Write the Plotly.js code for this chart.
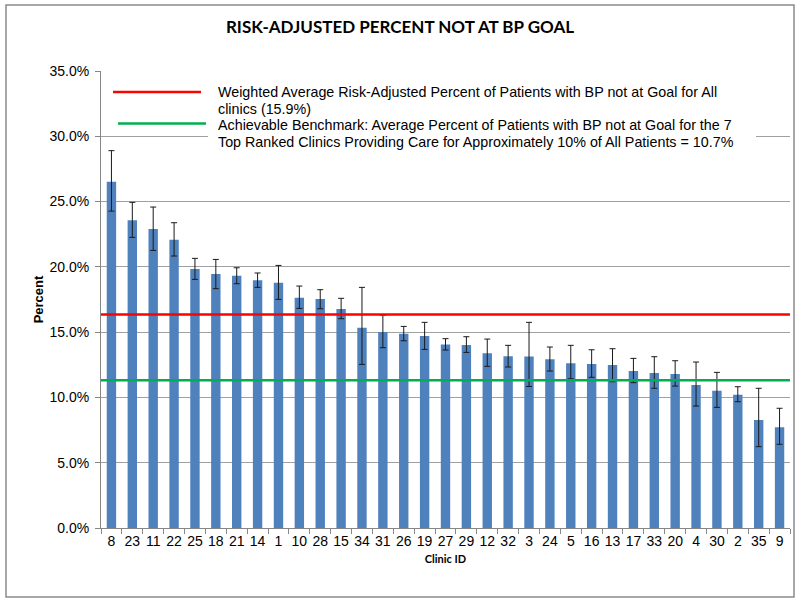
<!DOCTYPE html>
<html>
<head>
<meta charset="utf-8">
<script src="https://cdn.plot.ly/plotly-3.0.1.min.js"></script>
<style>
  html, body { margin: 0; padding: 0; background: #ffffff; }
  #chart { width: 800px; height: 603px; }
</style>
</head>
<body>
<div id="chart"></div>
<script>
// ---- data ----
var clinicIds = ['8','23','11','22','25','18','21','14','1','10','28','15','34','31','26','19','27','29','12','32','3','24','5','16','13','17','33','20','4','30','2','35','9'];
var percentNotAtGoal = [26.52,23.56,22.89,22.08,19.83,19.45,19.32,18.97,18.79,17.64,17.53,16.77,15.34,15.01,14.88,14.70,14.06,14.01,13.38,13.15,13.13,12.92,12.61,12.56,12.48,12.02,11.87,11.79,10.95,10.51,10.21,8.27,7.71];
var upperLimit = [28.90,24.94,24.58,23.38,20.65,20.57,19.93,19.53,20.11,18.53,18.25,17.59,18.43,16.30,15.44,15.75,14.50,14.65,14.47,13.99,15.75,13.86,13.99,13.65,13.73,12.99,13.12,12.81,12.71,11.92,10.82,10.70,9.17];
var lowerLimit = [24.27,22.26,21.26,20.83,19.04,18.33,18.71,18.43,17.51,16.82,16.79,16.03,12.53,13.81,14.34,13.68,13.63,13.45,12.38,12.33,10.84,12.02,11.43,11.54,11.20,11.13,10.70,10.87,9.34,9.24,9.67,6.23,6.41];
var weightedAverageLine = 16.36;
var benchmarkLine = 11.31;
var yTickValues = [0,5,10,15,20,25,30,35];
var yTickLabels = ['0.0%','5.0%','10.0%','15.0%','20.0%','25.0%','30.0%','35.0%'];
var legendLines = [
  'Weighted Average Risk-Adjusted Percent of Patients with BP not at Goal for All',
  'clinics (15.9%)',
  'Achievable Benchmark: Average Percent of Patients with BP not at Goal for the 7',
  'Top Ranked Clinics Providing Care for Approximately 10% of All Patients = 10.7%'
];

// ---- layout geometry (pixels -> paper) ----
var W = 800, H = 603;
var mL = 101, mR = 10, mT = 71, mB = 75;
var pw = W - mL - mR, ph = H - mT - mB;
function px(x) { return (x - mL) / pw; }
function py(y) { return (H - mB - y) / ph; }

var errPlus = percentNotAtGoal.map(function (v, i) { return upperLimit[i] - v; });
var errMinus = percentNotAtGoal.map(function (v, i) { return v - lowerLimit[i]; });

var barTrace = {
  type: 'bar',
  x: clinicIds,
  y: percentNotAtGoal,
  marker: { color: '#4F81BD' },
  error_y: {
    type: 'data', symmetric: false,
    array: errPlus, arrayminus: errMinus,
    color: '#1a1a1a', thickness: 1, width: 3
  },
  hoverinfo: 'x+y',
  showlegend: false
};

var axisFont = { family: 'Liberation Sans, Arial, sans-serif', size: 14, color: '#000000' };
var legendFont = { family: 'Liberation Sans, Arial, sans-serif', size: 14.3, color: '#000000' };
var legendLineY = [92, 108.5, 124.5, 141.5];

var annotations = legendLines.map(function (t, i) {
  return { xref: 'paper', yref: 'paper', x: px(216), y: py(legendLineY[i]), xanchor: 'left', yanchor: 'middle',
    align: 'left', text: t, showarrow: false, font: legendFont };
});

var layout = {
  width: W, height: H,
  margin: { l: mL, r: mR, t: mT, b: mB, pad: 0 },
  paper_bgcolor: '#ffffff',
  plot_bgcolor: '#ffffff',
  bargap: 0.55,
  showlegend: false,
  title: {
    text: '<b>RISK-ADJUSTED PERCENT NOT AT BP GOAL</b>',
    font: { family: 'Lato, Calibri, sans-serif', size: 17, color: '#000000' },
    xref: 'container', x: 0.5, xanchor: 'center',
    yref: 'container', y: 1 - 27 / H, yanchor: 'middle'
  },
  xaxis: {
    type: 'category',
    tickfont: axisFont, tickangle: 0,
    ticks: 'outside', tickson: 'boundaries', ticklen: 5, tickcolor: '#868686',
    showline: true, linecolor: '#868686', linewidth: 1,
    showgrid: false,
    title: { text: '<b>Clinic ID</b>', font: { family: 'Lato, Calibri, sans-serif', size: 11, color: '#000000' }, standoff: 7 }
  },
  yaxis: {
    range: [0, 35],
    tickmode: 'array', tickvals: yTickValues, ticktext: yTickLabels,
    tickfont: axisFont, ticklabelstandoff: 3,
    ticks: 'outside', ticklen: 5, tickcolor: '#868686',
    showline: true, linecolor: '#868686', linewidth: 1,
    showgrid: true, gridcolor: '#a0a0a0', gridwidth: 1,
    zeroline: false,
    title: { text: '<b>Percent</b>', font: { family: 'Liberation Sans, Arial, sans-serif', size: 13, color: '#000000' }, standoff: 2 }
  },
  shapes: [
    // outer chart frame
    { type: 'rect', xref: 'paper', yref: 'paper', x0: px(6), x1: px(794), y0: py(597), y1: py(5),
      line: { color: '#8a8a8a', width: 1.5 }, fillcolor: 'rgba(0,0,0,0)', layer: 'above' },
    // legend background
    { type: 'rect', xref: 'paper', yref: 'paper', x0: px(208), x1: px(756), y0: py(148), y1: py(73),
      line: { width: 0 }, fillcolor: '#ffffff', layer: 'above' },
    // reference lines
    { type: 'line', xref: 'paper', yref: 'y', x0: 0, x1: 1, y0: weightedAverageLine, y1: weightedAverageLine,
      line: { color: '#FF0000', width: 2.5 }, layer: 'above' },
    { type: 'line', xref: 'paper', yref: 'y', x0: 0, x1: 1, y0: benchmarkLine, y1: benchmarkLine,
      line: { color: '#00B050', width: 2.5 }, layer: 'above' },
    // legend keys
    { type: 'line', xref: 'paper', yref: 'paper', x0: px(113), x1: px(201), y0: py(92), y1: py(92),
      line: { color: '#FF0000', width: 2.5 }, layer: 'above' },
    { type: 'line', xref: 'paper', yref: 'paper', x0: px(118), x1: px(206), y0: py(123.5), y1: py(123.5),
      line: { color: '#00B050', width: 2.5 }, layer: 'above' }
  ],
  annotations: annotations
};

Plotly.newPlot('chart', [barTrace], layout, { displayModeBar: false, staticPlot: true });
</script>
</body>
</html>
